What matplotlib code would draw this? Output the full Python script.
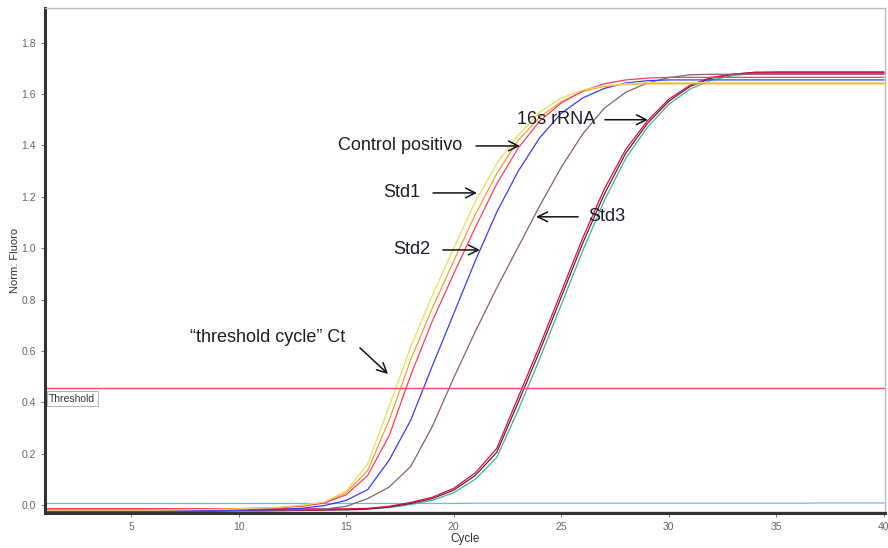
import matplotlib
matplotlib.use("Agg")
import matplotlib.pyplot as plt
import numpy as np

plt.rcParams["font.family"] = ["Liberation Sans", "DejaVu Sans"]

cycles = np.arange(1, 41)

# normalised fluorescence per cycle
std1 = [-0.020, -0.020, -0.020, -0.020, -0.020, -0.020, -0.019, -0.018, -0.017, -0.015,
        -0.012, -0.008, 0.000, 0.012, 0.055, 0.160, 0.385, 0.615, 0.815, 1.000,
        1.180, 1.330, 1.440, 1.530, 1.585, 1.615, 1.632, 1.640, 1.645, 1.645,
        1.645, 1.645, 1.645, 1.645, 1.645, 1.645, 1.645, 1.645, 1.645, 1.645]
orange = [-0.018, -0.018, -0.018, -0.018, -0.018, -0.018, -0.018, -0.017, -0.016, -0.014,
          -0.012, -0.009, -0.002, 0.010, 0.048, 0.135, 0.330, 0.565, 0.765, 0.950,
          1.130, 1.290, 1.420, 1.510, 1.570, 1.610, 1.630, 1.638, 1.640, 1.640,
          1.640, 1.640, 1.640, 1.640, 1.640, 1.640, 1.640, 1.640, 1.640, 1.640]
control_pos = [-0.016, -0.016, -0.016, -0.016, -0.016, -0.016, -0.016, -0.015, -0.015, -0.014,
               -0.013, -0.010, -0.004, 0.008, 0.040, 0.115, 0.270, 0.505, 0.715, 0.900,
               1.080, 1.250, 1.390, 1.495, 1.565, 1.612, 1.640, 1.655, 1.662, 1.665,
               1.665, 1.665, 1.665, 1.665, 1.665, 1.665, 1.665, 1.665, 1.665, 1.665]
std2 = [-0.022, -0.022, -0.022, -0.022, -0.022, -0.022, -0.021, -0.021, -0.020, -0.020,
        -0.019, -0.017, -0.012, -0.002, 0.018, 0.060, 0.175, 0.330, 0.540, 0.745,
        0.950, 1.140, 1.300, 1.430, 1.525, 1.585, 1.622, 1.643, 1.652, 1.655,
        1.655, 1.655, 1.655, 1.655, 1.655, 1.655, 1.655, 1.655, 1.655, 1.655]
std3 = [-0.020, -0.020, -0.020, -0.020, -0.020, -0.020, -0.020, -0.020, -0.020, -0.020,
        -0.020, -0.020, -0.019, -0.016, -0.005, 0.025, 0.070, 0.150, 0.305, 0.495,
        0.675, 0.845, 1.005, 1.165, 1.315, 1.445, 1.545, 1.607, 1.643, 1.664,
        1.675, 1.677, 1.677, 1.677, 1.677, 1.677, 1.677, 1.677, 1.677, 1.677]
rrna_a = [-0.015, -0.015, -0.015, -0.015, -0.015, -0.015, -0.015, -0.015, -0.015, -0.015,
          -0.015, -0.015, -0.015, -0.015, -0.015, -0.013, -0.005, 0.010, 0.030, 0.065,
          0.125, 0.220, 0.420, 0.620, 0.830, 1.040, 1.230, 1.385, 1.495, 1.580,
          1.635, 1.665, 1.678, 1.683, 1.683, 1.683, 1.683, 1.683, 1.683, 1.683]
rrna_b = [-0.024, -0.024, -0.024, -0.024, -0.024, -0.024, -0.024, -0.024, -0.024, -0.023,
          -0.023, -0.022, -0.021, -0.020, -0.019, -0.016, -0.008, 0.006, 0.025, 0.058,
          0.115, 0.205, 0.400, 0.600, 0.810, 1.020, 1.210, 1.370, 1.485, 1.572,
          1.630, 1.662, 1.677, 1.685, 1.686, 1.686, 1.686, 1.686, 1.686, 1.686]
rrna_c = [-0.018, -0.018, -0.018, -0.018, -0.018, -0.018, -0.018, -0.018, -0.018, -0.018,
          -0.018, -0.018, -0.018, -0.017, -0.016, -0.014, -0.010, 0.002, 0.018, 0.048,
          0.100, 0.185, 0.370, 0.570, 0.780, 0.990, 1.185, 1.350, 1.470, 1.560,
          1.620, 1.655, 1.672, 1.680, 1.680, 1.680, 1.680, 1.680, 1.680, 1.680]
neg_light = [0.006, 0.006, 0.006, 0.006, 0.006, 0.006, 0.006, 0.006, 0.006, 0.006,
             0.006, 0.006, 0.006, 0.006, 0.006, 0.006, 0.006, 0.006, 0.006, 0.006,
             0.007, 0.007, 0.007, 0.007, 0.007, 0.007, 0.007, 0.007, 0.007, 0.007,
             0.007, 0.007, 0.007, 0.007, 0.007, 0.007, 0.008, 0.008, 0.008, 0.008]
neg_dark = [-0.026, -0.026, -0.026, -0.026, -0.026, -0.026, -0.026, -0.026, -0.026, -0.026,
            -0.026, -0.026, -0.026, -0.026, -0.026, -0.026, -0.026, -0.026, -0.026, -0.026,
            -0.026, -0.026, -0.026, -0.026, -0.026, -0.026, -0.026, -0.026, -0.026, -0.026,
            -0.026, -0.026, -0.026, -0.026, -0.026, -0.026, -0.026, -0.026, -0.026, -0.026]

threshold = 0.455

series = [
    (neg_dark, "#1c1c70"),
    (neg_light, "#6cb6f5"),
    (rrna_c, "#3fb3a0"),
    (rrna_b, "#7a1532"),
    (rrna_a, "#d0143e"),
    (std3, "#8c5c7c"),
    (std2, "#3a3aff"),
    (orange, "#f5a030"),
    (control_pos, "#ff3d5e"),
    (std1, "#e6e05a"),
]

# (label, text x, text y, ha, arrow tail, arrow tip)
notes = [
    ("Control positivo", 20.39, 1.40, "right", (21.04, 1.398), (23.08, 1.398)),
    ("16s rRNA", 22.94, 1.50, "left", (27.03, 1.50), (29.03, 1.50)),
    ("Std1", 18.43, 1.215, "right", (19.04, 1.215), (21.08, 1.215)),
    ("Std2", 18.90, 0.993, "right", (19.50, 0.993), (21.22, 0.993)),
    ("Std3", 26.24, 1.122, "left", (25.78, 1.122), (23.83, 1.122)),
    ("\u201cthreshold cycle\u201d Ct", 7.74, 0.651, "left", (15.64, 0.612), (16.95, 0.510)),
]

fig = plt.figure(figsize=(8.88, 5.48), dpi=100)
ax = fig.add_axes([0.0507, 0.0639, 0.9459, 0.9215])

for vals, col in series:
    ax.plot(cycles, vals, color=col, lw=0.9)

ax.axhline(threshold, color="#ff4a64", lw=1.0)
ax.text(1.2, 0.414, "Threshold", fontsize=7.5, color="#333", va="center",
        bbox=dict(boxstyle="square,pad=0.25", fc="white", ec="#aaaaaa", lw=0.6))

for label, tx, ty, ha, tail, tip in notes:
    ax.text(tx, ty, label, fontsize=13, color="#1d1d2a", ha=ha, va="center")
    ax.annotate("", xy=tip, xytext=tail,
                arrowprops=dict(arrowstyle="->,head_length=0.7,head_width=0.35",
                                color="#111", lw=1.1, shrinkA=0, shrinkB=0))

ax.set_xlim(1.0, 40.05)
ax.set_ylim(-0.031, 1.935)
ax.set_xticks([5, 10, 15, 20, 25, 30, 35, 40])
ax.set_yticks([0.0, 0.2, 0.4, 0.6, 0.8, 1.0, 1.2, 1.4, 1.6, 1.8])
ax.set_yticklabels(["0.0", "0.2", "0.4", "0.6", "0.8", "1.0", "1.2", "1.4", "1.6", "1.8"])
ax.tick_params(labelsize=7.5, colors="#666", length=3, width=0.6)
ax.set_xlabel("Cycle", fontsize=8.5, color="#333", labelpad=1)
ax.set_ylabel("Norm. Fluoro", fontsize=8, color="#333", labelpad=1)

for side in ("left", "bottom"):
    ax.spines[side].set_color("#333")
    ax.spines[side].set_linewidth(2.2)
for side in ("top", "right"):
    ax.spines[side].set_color("#bbbbbb")
    ax.spines[side].set_linewidth(1.0)

fig.savefig("out.png", dpi=100)
